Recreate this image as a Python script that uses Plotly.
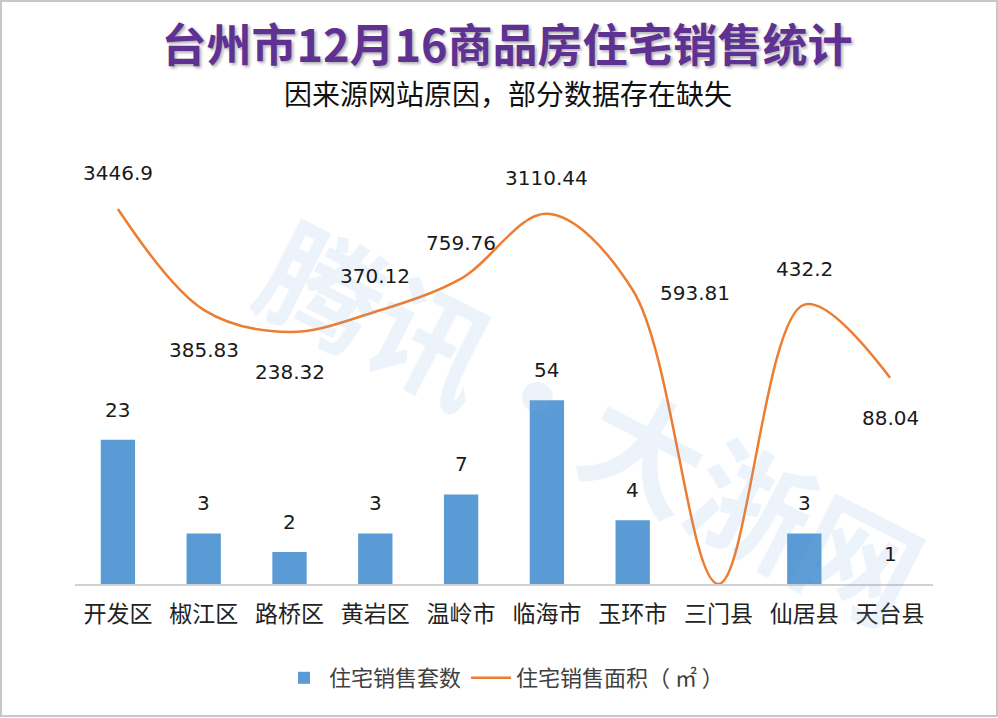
import math
import plotly.graph_objects as go

# ---- data ----
categories = ["开发区", "椒江区", "路桥区", "黄岩区", "温岭市", "临海市", "玉环市", "三门县", "仙居县", "天台县"]
units_sold = [23, 3, 2, 3, 7, 54, 4, None, 3, 1]
area_sold = [3446.9, 385.83, 238.32, 370.12, 759.76, 3110.44, 593.81, 1, 432.2, 88.04]
area_labels = ["3446.9", "385.83", "238.32", "370.12", "759.76", "3110.44", "593.81", "", "432.2", "88.04"]

# label placement style for the line labels (Excel-style positions)
line_label_pos = ["top", "bottom", "bottom", "top", "top", "top", "right", None, "top", "bottom"]

BLUE = "#5B9BD5"
ORANGE = "#ED7D31"
NUM_FONT = dict(family="DejaVu Sans", size=20, color="#1a1a1a")

fig = go.Figure()

fig.add_trace(go.Bar(
    x=categories, y=units_sold, name="住宅销售套数",
    marker=dict(color=BLUE, line=dict(width=0)),
    hoverinfo="x+y",
))

fig.add_trace(go.Scatter(
    x=categories, y=area_sold, name="住宅销售面积（ ㎡ ）",
    mode="lines",
    line=dict(color=ORANGE, width=2.5, shape="spline", smoothing=1.0),
    cliponaxis=False,
))

annotations = []
# watermark (drawn first so it sits beneath the labels)
annotations.append(dict(
    text="腾讯·大浙网", xref="paper", yref="paper",
    x=0.605, y=0.39, showarrow=False, textangle=27,
    font=dict(family="Noto Sans CJK SC", size=120, color="rgba(120,170,220,0.14)", weight=700),
))
# bar value labels
for c, v in zip(categories, units_sold):
    if v is None:
        continue
    annotations.append(dict(
        x=c, y=math.log10(v), xref="x", yref="y", text=str(v),
        showarrow=False, yshift=30, yanchor="middle", font=NUM_FONT,
    ))
# line value labels
for c, v, t, p in zip(categories, area_sold, area_labels, line_label_pos):
    if not t or p is None:
        continue
    xs, ys = 0, 0
    if p == "top":
        ys = 36
    elif p == "bottom":
        ys = -40
    elif p == "right":
        xs, ys = 62, -3
    annotations.append(dict(
        x=c, y=math.log10(v), xref="x", yref="y", text=t,
        showarrow=False, xshift=xs, yshift=ys, yanchor="middle", font=NUM_FONT,
    ))

# subtitle
annotations.append(dict(
    text="因来源网站原因，部分数据存在缺失", xref="paper", yref="paper",
    x=0.505, y=(584 - 93) / 424, showarrow=False, yanchor="middle",
    font=dict(family="Noto Sans CJK SC", size=28, color="#111111"),
))

fig.update_layout(
    width=998, height=718,
    margin=dict(l=75, r=65, t=160, b=134),
    paper_bgcolor="white", plot_bgcolor="white",
    title=dict(
        text="台州市12月16商品房住宅销售统计",
        x=0.508, xanchor="center", y=1 - 46 / 718, yanchor="middle", yref="container",
        font=dict(family="Noto Sans CJK SC", size=45, color="#5e3192", weight=700,
                  shadow="2px 2px 3px rgba(0,0,0,0.30)"),
    ),
    bargap=0.6,
    showlegend=True,
    legend=dict(
        orientation="h", x=0.5, xanchor="center", y=(584 - 678) / 424, yanchor="middle",
        font=dict(family="Noto Sans CJK SC", size=22, color="#404040"),
        itemwidth=40, bgcolor="rgba(0,0,0,0)",
    ),
    xaxis=dict(
        type="category", showgrid=False, zeroline=False,
        showline=True, linecolor="#d0d0d0", linewidth=1.5,
        ticks="", ticklabelstandoff=9,
        tickfont=dict(family="Noto Sans CJK SC", size=23, color="#222222"),
    ),
    yaxis=dict(
        type="log", range=[0, 4], visible=False, showgrid=False, zeroline=False,
    ),
    annotations=annotations,
    shapes=[dict(
        type="rect", xref="paper", yref="paper",
        x0=(1 - 75) / 858, x1=(997 - 75) / 858,
        y0=(584 - 716) / 424, y1=(584 - 1) / 424,
        line=dict(color="#c8c8c8", width=2), fillcolor="rgba(0,0,0,0)", layer="below",
    )],
)

fig.write_html(
    "out.html",
    config={"displayModeBar": False},
    post_script="document.body.style.margin='0';document.body.style.overflow='hidden';",
)
